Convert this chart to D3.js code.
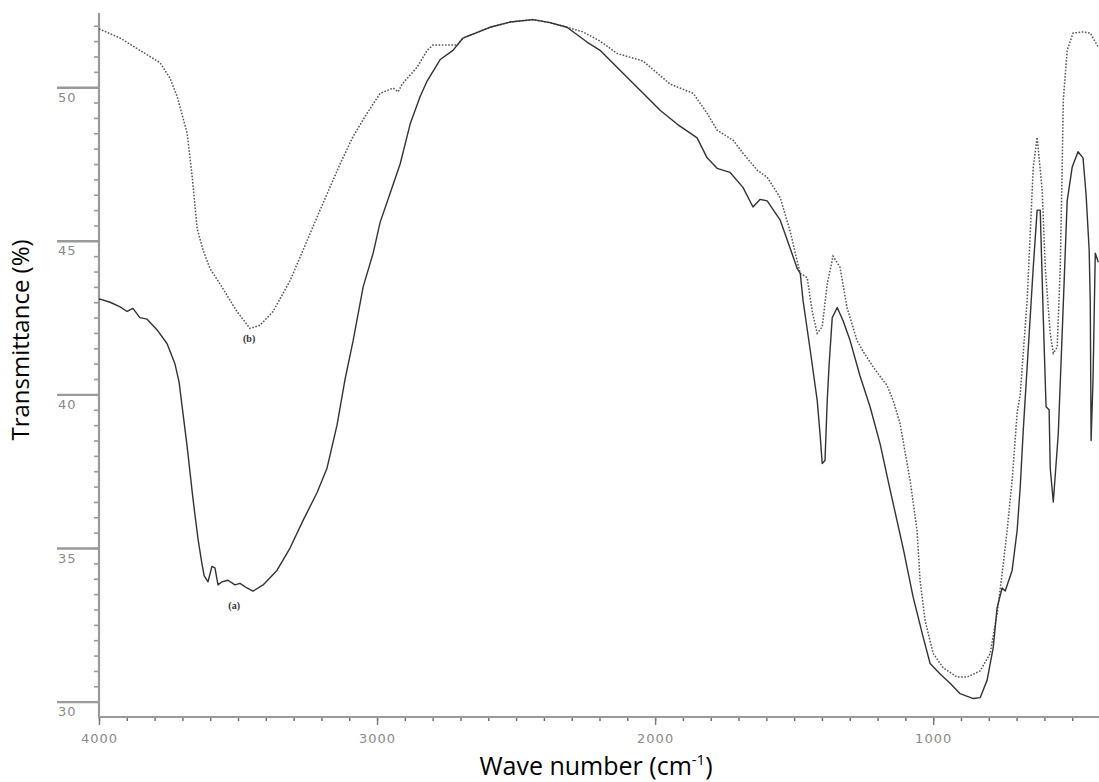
<!DOCTYPE html>
<html>
<head>
<meta charset="utf-8">
<script src="https://cdn.jsdelivr.net/npm/d3@7"></script>
<style>
  body { margin: 0; background: #fff; }
  svg { display: block; }
  .tick-lbl { font-family: "DejaVu Sans", sans-serif; font-size: 13px; fill: #8a8a8a; letter-spacing: 1px; }
  .ax-title { font-family: "Open Sans", sans-serif; fill: #000; }
</style>
</head>
<body>
<svg width="1099" height="782"></svg>
<script>
// ---------------------------------------------------------
// Data: wave number (cm-1) and transmittance (%) for both spectra
const waveA = [4000, 3996, 3960, 3924, 3899, 3878, 3853, 3827, 3791, 3755, 3727, 3712, 3701, 3683, 3662, 3644,
  3630, 3622, 3608, 3594, 3583, 3572, 3558, 3536, 3511, 3493, 3468, 3446, 3410, 3360, 3313, 3266, 3216, 3180,
  3144, 3115, 3086, 3050, 3014, 2989, 2953, 2917, 2881, 2845, 2820, 2773, 2727, 2691, 2594, 2522, 2439, 2378,
  2317, 2245, 2198, 2137, 2054, 1982, 1921, 1849, 1813, 1777, 1731, 1684, 1648, 1622, 1597, 1550, 1514, 1489,
  1478, 1468, 1442, 1417, 1407, 1399, 1389, 1381, 1374, 1363, 1345, 1324, 1299, 1263, 1227, 1191, 1155, 1108,
  1072, 1036, 1011, 975, 939, 903, 856, 831, 806, 784, 770, 752, 741, 716, 698, 687, 676, 662, 640, 626, 615,
  604, 594, 583, 579, 568, 550, 536, 518, 500, 479, 461, 450, 439, 435, 432, 425, 417, 406];
const transA = [43.1, 43.1, 43.0, 42.85, 42.7, 42.8, 42.5, 42.45, 42.1, 41.65, 41.0, 40.4, 39.6, 38.3, 36.6, 35.3,
  34.5, 34.1, 33.9, 34.4, 34.35, 33.8, 33.9, 33.95, 33.8, 33.85, 33.7, 33.6, 33.8, 34.27, 35.0, 35.9, 36.8, 37.6,
  39.0, 40.5, 41.75, 43.5, 44.6, 45.6, 46.55, 47.5, 48.8, 49.7, 50.2, 50.9, 51.2, 51.6, 51.95, 52.12, 52.2, 52.1,
  51.95, 51.47, 51.2, 50.65, 49.9, 49.25, 48.8, 48.35, 47.7, 47.36, 47.23, 46.74, 46.1, 46.35, 46.3, 45.67, 44.75, 44.1,
  43.94, 43.06, 41.43, 39.8, 38.73, 37.75, 37.85, 39.8, 41.0, 42.5, 42.83, 42.4, 41.76, 40.6, 39.6, 38.4, 36.9, 35.0,
  33.4, 32.1, 31.24, 30.9, 30.6, 30.26, 30.1, 30.13, 30.7, 31.76, 33.06, 33.7, 33.6, 34.27, 35.57, 36.97, 38.83, 40.9, 44.14, 46.0, 46.0,
  42.5, 39.6, 39.5, 37.6, 36.5, 38.73, 41.99, 46.3, 47.4, 47.9, 47.7, 46.5, 44.7, 43.0, 38.5, 40.5, 44.6, 44.3];

const waveB = [4000, 3924, 3853, 3781, 3745, 3719, 3683, 3665, 3647, 3626, 3601, 3565, 3504, 3457, 3421, 3374,
  3313, 3266, 3205, 3133, 3086, 3036, 2989, 2942, 2924, 2910, 2856, 2820, 2799, 2712, 2691, 2594, 2522, 2439,
  2378, 2317, 2259, 2198, 2137, 2043, 1946, 1863, 1813, 1777, 1719, 1684, 1633, 1597, 1550, 1514, 1496, 1478,
  1453, 1435, 1417, 1399, 1381, 1360, 1335, 1310, 1274, 1252, 1216, 1180, 1166, 1144, 1119, 1083, 1058, 1047,
  1029, 1000, 964, 914, 878, 831, 795, 770, 752, 734, 716, 698, 687, 662, 640, 626, 608, 597, 579, 568, 554,
  543, 536, 532, 518, 497, 461, 435, 406];
const transB = [51.9, 51.6, 51.2, 50.8, 50.3, 49.7, 48.5, 47.1, 45.4, 44.7, 44.1, 43.6, 42.7, 42.15, 42.25, 42.7,
  43.7, 44.7, 46.0, 47.5, 48.4, 49.15, 49.8, 49.97, 49.85, 50.1, 50.65, 51.2, 51.37, 51.37, 51.6, 51.95, 52.12, 52.2,
  52.1, 51.95, 51.8, 51.5, 51.1, 50.85, 50.1, 49.8, 49.15, 48.6, 48.27, 47.85, 47.3, 47.07, 46.4, 45.3, 44.6, 43.94,
  43.8, 42.7, 41.99, 42.2, 43.6, 44.5, 44.14, 42.83, 41.76, 41.4, 40.9, 40.45, 40.3, 39.8, 39.05, 37.2, 35.57, 33.94,
  32.64, 31.57, 31.1, 30.8, 30.8, 31.0, 31.57, 32.87, 34.17, 35.57, 37.2, 39.4, 40.0, 43.06, 47.4, 48.37, 46.65, 44.14, 41.99, 41.34, 41.53,
  44.14, 47.4, 49.58, 51.2, 51.76, 51.8, 51.76, 51.3];

const yTickLabels = [30, 35, 40, 45, 50];
const xTickLabels = [4000, 3000, 2000, 1000];
const curveLabels = [
  { text: '(a)', wave: 3514, trans: 33.0 },
  { text: '(b)', wave: 3460, trans: 41.7 }
];

// ---------------------------------------------------------
// Geometry
const svg = d3.select('svg');
const plotL = 99, plotR = 1100, plotT = 15, plotB = 717;

const xScale = d3.scaleLinear().domain([4000, 400]).range([plotL, plotR]);
const yScale = d3.scaleLinear().domain([29.5, 52.35]).range([plotB, plotT]);

const axisColor = '#9a9a9a';

// ---------------------------------------------------------
// Y axis: minor ticks every 0.5, long major ticks every 5
const yMinor = d3.axisLeft(yScale).tickValues(d3.range(30, 52.01, 0.5)).tickSize(5).tickFormat('');
const yMinorG = svg.append('g').attr('transform', `translate(${plotL},0)`).call(yMinor);
yMinorG.select('.domain').remove();
yMinorG.selectAll('line').attr('stroke', axisColor).attr('stroke-width', 1.6);

const yMajor = d3.axisLeft(yScale).tickValues(yTickLabels).tickSize(0).tickPadding(0);
const yMajorG = svg.append('g').attr('transform', `translate(${plotL},0)`).call(yMajor);
yMajorG.select('.domain').remove();
yMajorG.attr('font-family', null).attr('font-size', null);
yMajorG.selectAll('.tick').append('line')
  .attr('class', 'major-line')
  .attr('x1', -42)
  .attr('x2', 0)
  .attr('y1', 0)
  .attr('y2', 0)
  .style('stroke', axisColor)
  .style('stroke-width', '2.4px');
yMajorG.selectAll('text')
  .attr('class', 'tick-lbl')
  .attr('x', -41)
  .attr('dy', 14)
  .attr('text-anchor', 'start')
  .attr('fill', null);

// ---------------------------------------------------------
// X axis: minor ticks every 100, major every 1000
const xMinor = d3.axisBottom(xScale).tickValues(d3.range(500, 4001, 100)).tickSize(4).tickFormat('');
const xMinorG = svg.append('g').attr('transform', `translate(0,${plotB})`).call(xMinor);
xMinorG.select('.domain').remove();
xMinorG.selectAll('line').attr('stroke', '#666').attr('stroke-width', 1.4);

const xMajor = d3.axisBottom(xScale).tickValues(xTickLabels).tickSize(8).tickPadding(9)
  .tickFormat(d3.format('d'));
const xMajorG = svg.append('g').attr('transform', `translate(0,${plotB})`).call(xMajor);
xMajorG.select('.domain').remove();
xMajorG.selectAll('line').attr('stroke', '#777').attr('stroke-width', 1.4);
xMajorG.attr('font-family', null).attr('font-size', null);
xMajorG.selectAll('text').attr('class', 'tick-lbl').attr('fill', null);

// axis lines
svg.append('line').attr('x1', plotL).attr('x2', plotL).attr('y1', plotT - 2).attr('y2', plotB + 1)
  .attr('stroke', axisColor).attr('stroke-width', 2.2);
svg.append('line').attr('x1', plotL).attr('x2', plotR).attr('y1', plotB).attr('y2', plotB)
  .attr('stroke', axisColor).attr('stroke-width', 2.2);

// ---------------------------------------------------------
// Spectra
const line = d3.line().x(d => xScale(d[0])).y(d => yScale(d[1]));
const seriesA = waveA.map((w, i) => [w, transA[i]]);
const seriesB = waveB.map((w, i) => [w, transB[i]]);

svg.append('path').datum(seriesB)
  .attr('d', line)
  .attr('fill', 'none')
  .attr('stroke', '#555')
  .attr('stroke-width', 1.5)
  .attr('stroke-dasharray', '1.6,1.6');

svg.append('path').datum(seriesA)
  .attr('d', line)
  .attr('fill', 'none')
  .attr('stroke', '#333')
  .attr('stroke-width', 1.4)
  .attr('stroke-linejoin', 'round');

// curve labels
svg.selectAll('.curve-lbl')
  .data(curveLabels)
  .enter()
  .append('text')
  .attr('class', 'curve-lbl')
  .attr('x', d => xScale(d.wave))
  .attr('y', d => yScale(d.trans))
  .attr('text-anchor', 'middle')
  .attr('font-family', 'Liberation Serif, serif')
  .attr('font-weight', 'bold')
  .attr('font-size', 10)
  .attr('fill', '#333')
  .text(d => d.text);

// ---------------------------------------------------------
// Axis titles
svg.append('text')
  .attr('class', 'ax-title')
  .attr('font-size', 24)
  .attr('transform', 'translate(29,340) rotate(-90)')
  .attr('text-anchor', 'middle')
  .text('Transmittance (%)');

const xTitle = svg.append('text')
  .attr('class', 'ax-title')
  .attr('font-size', 25)
  .attr('x', 596)
  .attr('y', 775)
  .attr('text-anchor', 'middle');
xTitle.append('tspan').text('Wave number (cm');
xTitle.append('tspan').attr('dy', -10).attr('font-size', 15).text('-1');
xTitle.append('tspan').attr('dy', 10).text(')');
</script>
</body>
</html>
